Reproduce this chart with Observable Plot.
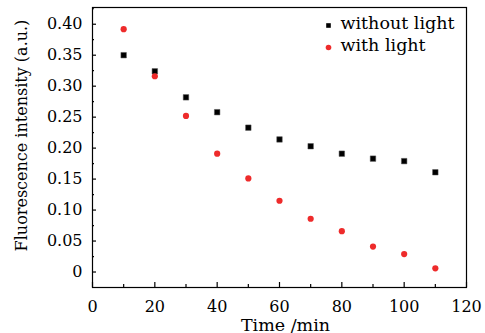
<!DOCTYPE html>
<html><head><meta charset="utf-8">
<script src="https://cdn.jsdelivr.net/npm/d3@7"></script>
<script src="https://cdn.jsdelivr.net/npm/@observablehq/plot@0.6"></script>
<style>body{margin:0;background:#fff}</style>
</head><body><div id="chart"></div>
<script>
const times = [10, 20, 30, 40, 50, 60, 70, 80, 90, 100, 110];
const withoutLight = [0.350, 0.324, 0.282, 0.258, 0.233, 0.214, 0.203, 0.191, 0.183, 0.179, 0.161];
const withLight = [0.392, 0.316, 0.252, 0.191, 0.151, 0.115, 0.086, 0.066, 0.041, 0.029, 0.006];
const seriesNames = ["without light", "with light"];
const xTicks = [0, 20, 40, 60, 80, 100, 120];
const xMinorTicks = [10, 30, 50, 70, 90, 110];
const yTicks = [0, 0.05, 0.10, 0.15, 0.20, 0.25, 0.30, 0.35, 0.40];
const yTickLabels = ["0", "0.05", "0.10", "0.15", "0.20", "0.25", "0.30", "0.35", "0.40"];
const yMinorTicks = [0.025, 0.075, 0.125, 0.175, 0.225, 0.275, 0.325, 0.375, 0.425];
const xLabel = "Time /min";
const yLabel = "Fluorescence intensity (a.u.)";

const red = "#ee2b2b";
const font = "DejaVu Serif";

const rows = times.flatMap((t, i) => [
  {t, v: withoutLight[i], s: seriesNames[0]},
  {t, v: withLight[i], s: seriesNames[1]}
]);

const chart = Plot.plot({
  width: 485,
  height: 333,
  marginLeft: 92,
  marginRight: 19,
  marginTop: 7,
  marginBottom: 46,
  style: {fontFamily: font, background: "#fff", color: "#000"},
  x: {domain: [0, 120]},
  y: {domain: [-0.025, 0.427]},
  marks: [
    Plot.frame({stroke: "#000", strokeWidth: 1.2}),
    // inward ticks
    Plot.axisX(xTicks, {tickSize: -5, text: null, label: null, strokeWidth: 1.2}),
    Plot.axisX(xMinorTicks, {tickSize: -3, text: null, label: null, strokeWidth: 1.2}),
    Plot.axisY(yTicks, {tickSize: -4, text: null, label: null, strokeWidth: 1.2}),
    Plot.axisY(yMinorTicks, {tickSize: -2, text: null, label: null, strokeWidth: 1.2}),
    // tick labels
    Plot.axisX(xTicks, {tickSize: 0, tickPadding: 13, fontSize: 16, label: null}),
    Plot.axisY(yTicks, {tickSize: 0, tickPadding: 10, fontSize: 16, label: null,
      tickFormat: (d) => yTickLabels[yTicks.indexOf(d)]}),
    // axis titles
    Plot.text([xLabel], {frameAnchor: "bottom", lineAnchor: "bottom", dx: 6, dy: 43, fontSize: 17.5, fill: "#000"}),
    Plot.text([yLabel], {frameAnchor: "left", textAnchor: "middle", lineAnchor: "middle", rotate: -90, dx: -71, dy: -12, fontSize: 16, fill: "#000"}),
    // data
    Plot.dot(rows.filter(d => d.s === seriesNames[0]), {x: "t", y: "v", symbol: "square", r: 3.1, fill: "#000", stroke: "#555", strokeWidth: 0.5}),
    Plot.dot(rows.filter(d => d.s === seriesNames[1]), {x: "t", y: "v", symbol: "circle", r: 3.1, fill: red}),
    // legend
    Plot.dot([seriesNames[0]], {frameAnchor: "top-left", dx: 236, dy: 18, symbol: "square", r: 2.6, fill: "#000"}),
    Plot.text([seriesNames[0]], {frameAnchor: "top-left", lineAnchor: "middle", dx: 248, dy: 16, text: d => d, textAnchor: "start", fontSize: 17.5, fill: "#000"}),
    Plot.dot([seriesNames[1]], {frameAnchor: "top-left", dx: 236, dy: 40, symbol: "circle", r: 2.8, fill: red}),
    Plot.text([seriesNames[1]], {frameAnchor: "top-left", lineAnchor: "middle", dx: 248, dy: 38, text: d => d, textAnchor: "start", fontSize: 17.5, fill: "#000"})
  ]
});
document.getElementById("chart").appendChild(chart);
</script>
</body></html>
